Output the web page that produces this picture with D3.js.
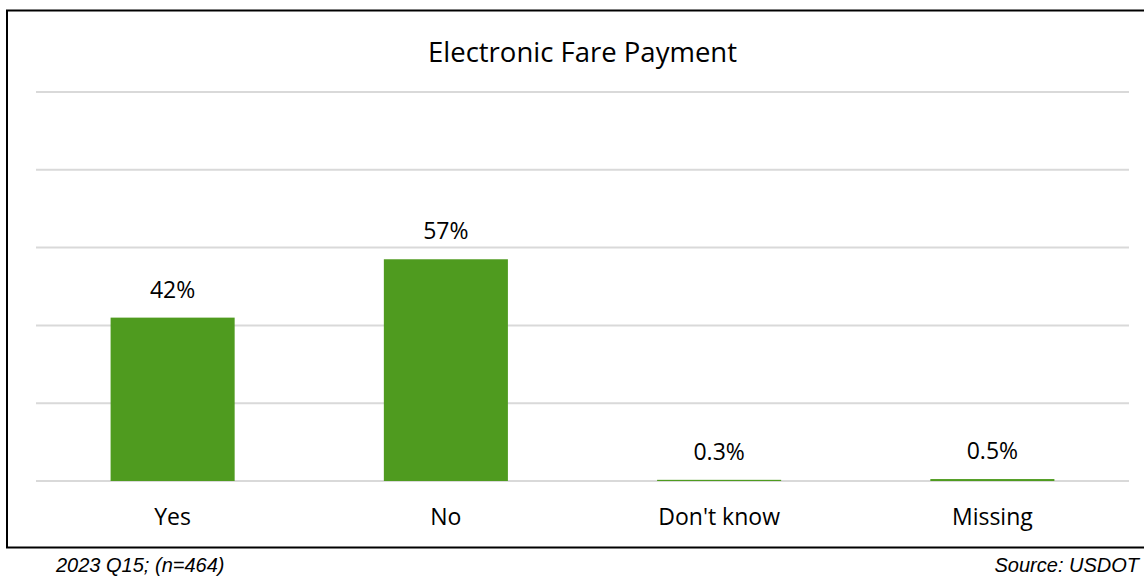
<!DOCTYPE html>
<html>
<head>
<meta charset="utf-8">
<script src="https://d3js.org/d3.v7.min.js"></script>
<style>
    body { margin: 0; background: #fff; }
    .grid line { stroke: #d9d9d9; stroke-width: 2px; }
    .lbl { font-family: "Open Sans", "Noto Sans", sans-serif; fill: #000; }
    .foot { font-family: "Liberation Sans", Arial, sans-serif; font-style: italic; font-size: 20px; fill: #000; }
</style>
</head>
<body>
<svg id="chart" width="1144" height="577"></svg>
<script>
    // data
    const categories = ["Yes", "No", "Don't know", "Missing"];
    const shares = [0.42, 0.57, 0.003, 0.005];
    const valueLabels = ["42%", "57%", "0.3%", "0.5%"];
    const gridTicks = [0, 0.2, 0.4, 0.6, 0.8, 1.0];

    const svg = d3.select("#chart");
    const plot = { left: 36, right: 1129, top: 92, bottom: 481 };

    // frame
    svg.append("rect")
        .attr("x", 7).attr("y", 10.5)
        .attr("width", 1150).attr("height", 537)
        .attr("fill", "none").attr("stroke", "#000").attr("stroke-width", 2);

    const x = d3.scaleBand().domain(categories)
        .range([plot.left, plot.right])
        .paddingInner(0.546).paddingOuter(0.273);
    const y = d3.scaleLinear().domain([0, 1]).range([plot.bottom, plot.top]);

    svg.append("g").attr("class", "grid")
        .selectAll("line").data(gridTicks).join("line")
        .attr("x1", plot.left).attr("x2", plot.right)
        .attr("y1", d => y(d)).attr("y2", d => y(d));

    svg.append("g").selectAll("rect").data(categories).join("rect")
        .attr("x", d => x(d))
        .attr("width", x.bandwidth())
        .attr("y", (d, i) => y(shares[i]))
        .attr("height", (d, i) => y(0) - y(shares[i]))
        .attr("fill", "#4f9b1f");

    svg.append("g").selectAll("text").data(categories).join("text")
        .attr("class", "lbl")
        .attr("x", d => x(d) + x.bandwidth() / 2)
        .attr("y", (d, i) => y(shares[i]) - 20)
        .attr("text-anchor", "middle")
        .attr("font-size", 23)
        .text((d, i) => valueLabels[i]);

    svg.append("g").selectAll("text").data(categories).join("text")
        .attr("class", "lbl")
        .attr("x", d => x(d) + x.bandwidth() / 2)
        .attr("y", 525)
        .attr("text-anchor", "middle")
        .attr("font-size", 23)
        .text(d => d);

    svg.append("text").attr("class", "lbl")
        .attr("x", (plot.left + plot.right) / 2)
        .attr("y", 62)
        .attr("text-anchor", "middle")
        .attr("font-size", 27.5)
        .text("Electronic Fare Payment");

    svg.append("text").attr("class", "foot")
        .attr("x", 56).attr("y", 572)
        .text("2023 Q15; (n=464)");
    svg.append("text").attr("class", "foot")
        .attr("x", 1139).attr("y", 572)
        .attr("text-anchor", "end")
        .text("Source: USDOT");
</script>
</body>
</html>
